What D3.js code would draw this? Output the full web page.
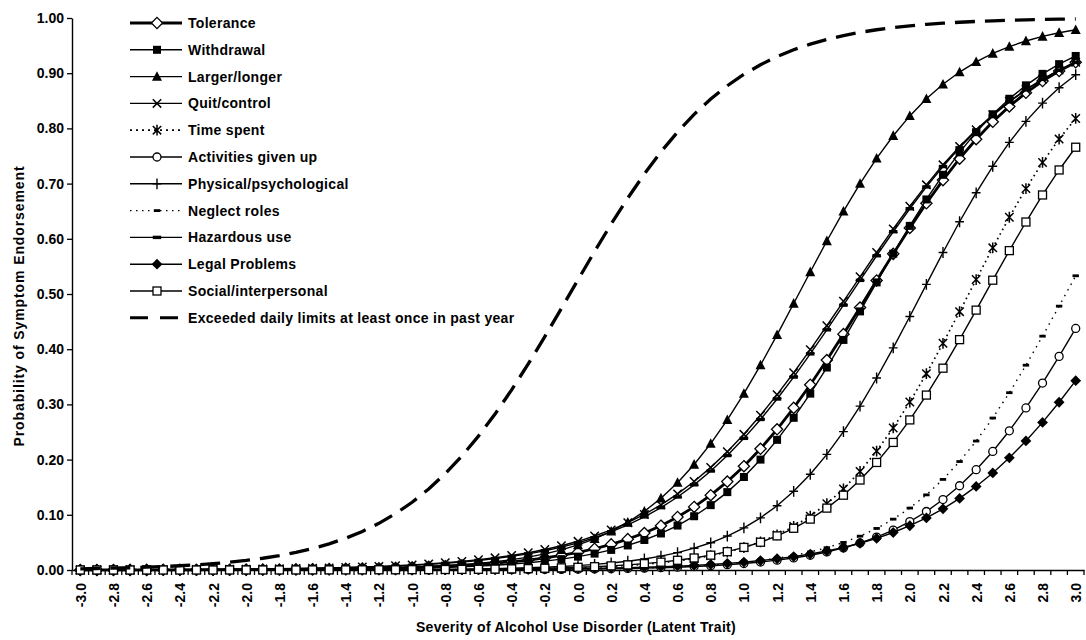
<!DOCTYPE html>
<html>
<head>
<meta charset="utf-8">
<script src="https://cdn.jsdelivr.net/npm/d3@7"></script>
<style>
  body { margin: 0; background: #fff; }
  svg text { font-family: "Liberation Sans", Arial, sans-serif; font-weight: bold; fill: #000; }
</style>
</head>
<body>
<svg id="chart" width="1086" height="640"></svg>
<script>
// Latent trait values (x categories)
const categories = [
  "-3.0","-2.9","-2.8","-2.7","-2.6","-2.5","-2.4","-2.3","-2.2","-2.1",
  "-2.0","-1.9","-1.8","-1.7","-1.6","-1.5","-1.4","-1.3","-1.2","-1.1",
  "-1.0","-0.9","-0.8","-0.7","-0.6","-0.5","-0.4","-0.3","-0.2","-0.1",
  "0.0","0.1","0.2","0.3","0.4","0.5","0.6","0.7","0.8","0.9",
  "1.0","1.1","1.2","1.3","1.4","1.5","1.6","1.7","1.8","1.9",
  "2.0","2.1","2.2","2.3","2.4","2.5","2.6","2.7","2.8","2.9",
  "3.0"
];

// Labelled categories on the x axis
const xTickLabels = ["-3.0","-2.8","-2.6","-2.4","-2.2","-2.0","-1.8","-1.6","-1.4","-1.2",
  "-1.0","-0.8","-0.6","-0.4","-0.2","0.0","0.2","0.4","0.6","0.8",
  "1.0","1.2","1.4","1.6","1.8","2.0","2.2","2.4","2.6","2.8","3.0"];

const yTicks = [0, 0.1, 0.2, 0.3, 0.4, 0.5, 0.6, 0.7, 0.8, 0.9, 1.0];

// Probability of endorsement for each criterion
const tolerance = [
  0.0001,0.0001,0.0001,0.0002,0.0002,0.0003,0.0003,0.0004,0.0005,0.0005,
  0.0007,0.0008,0.0010,0.0012,0.0015,0.0018,0.0021,0.0026,0.0032,0.0038,
  0.0047,0.0057,0.0069,0.0083,0.0101,0.0123,0.0149,0.0180,0.0218,0.0264,
  0.0319,0.0385,0.0464,0.0559,0.0670,0.0803,0.0960,0.1143,0.1355,0.1601,
  0.1881,0.2196,0.2549,0.2937,0.3356,0.3804,0.4273,0.4755,0.5245,0.5727,
  0.6196,0.6644,0.7063,0.7451,0.7804,0.8119,0.8399,0.8645,0.8857,0.9040,
  0.9197];
const withdrawal = [
  0.0000,0.0001,0.0001,0.0001,0.0001,0.0001,0.0002,0.0002,0.0002,0.0003,
  0.0004,0.0005,0.0006,0.0007,0.0009,0.0011,0.0013,0.0016,0.0020,0.0025,
  0.0030,0.0037,0.0046,0.0057,0.0070,0.0086,0.0106,0.0131,0.0161,0.0197,
  0.0242,0.0297,0.0364,0.0445,0.0544,0.0662,0.0805,0.0974,0.1175,0.1411,
  0.1685,0.2000,0.2358,0.2757,0.3195,0.3668,0.4168,0.4685,0.5210,0.5730,
  0.6234,0.6713,0.7159,0.7566,0.7932,0.8256,0.8537,0.8780,0.8988,0.9164,
  0.9312];
const largerLonger = [
  0.0000,0.0001,0.0001,0.0001,0.0001,0.0002,0.0002,0.0002,0.0003,0.0004,
  0.0005,0.0006,0.0008,0.0010,0.0012,0.0015,0.0019,0.0024,0.0030,0.0038,
  0.0048,0.0060,0.0076,0.0095,0.0119,0.0149,0.0187,0.0234,0.0292,0.0365,
  0.0454,0.0564,0.0699,0.0864,0.1062,0.1300,0.1582,0.1911,0.2290,0.2719,
  0.3195,0.3712,0.4261,0.4828,0.5399,0.5960,0.6498,0.6999,0.7457,0.7867,
  0.8226,0.8536,0.8799,0.9021,0.9206,0.9358,0.9482,0.9584,0.9666,0.9733,
  0.9786];
const quitControl = [
  0.0003,0.0003,0.0004,0.0005,0.0005,0.0006,0.0008,0.0009,0.0011,0.0013,
  0.0016,0.0019,0.0022,0.0027,0.0032,0.0038,0.0045,0.0054,0.0065,0.0077,
  0.0092,0.0110,0.0131,0.0156,0.0185,0.0221,0.0263,0.0312,0.0371,0.0440,
  0.0520,0.0616,0.0727,0.0857,0.1007,0.1180,0.1379,0.1604,0.1859,0.2143,
  0.2458,0.2803,0.3176,0.3573,0.3992,0.4425,0.4868,0.5312,0.5752,0.6180,
  0.6590,0.6978,0.7340,0.7673,0.7975,0.8248,0.8490,0.8705,0.8892,0.9056,
  0.9197];
const timeSpent = [
  0.0000,0.0000,0.0000,0.0000,0.0000,0.0000,0.0000,0.0000,0.0000,0.0000,
  0.0000,0.0000,0.0001,0.0001,0.0001,0.0001,0.0002,0.0002,0.0003,0.0003,
  0.0004,0.0005,0.0006,0.0008,0.0010,0.0013,0.0016,0.0021,0.0026,0.0033,
  0.0041,0.0052,0.0066,0.0083,0.0104,0.0131,0.0165,0.0207,0.0260,0.0326,
  0.0408,0.0510,0.0635,0.0789,0.0976,0.1200,0.1469,0.1786,0.2154,0.2573,
  0.3043,0.3557,0.4107,0.4680,0.5262,0.5837,0.6390,0.6909,0.7383,0.7807,
  0.8180];
const activitiesGivenUp = [
  0.0000,0.0000,0.0000,0.0000,0.0000,0.0000,0.0000,0.0000,0.0000,0.0000,
  0.0000,0.0000,0.0000,0.0000,0.0001,0.0001,0.0001,0.0001,0.0001,0.0001,
  0.0002,0.0002,0.0003,0.0003,0.0004,0.0005,0.0006,0.0008,0.0010,0.0012,
  0.0015,0.0018,0.0022,0.0028,0.0034,0.0042,0.0051,0.0063,0.0078,0.0096,
  0.0118,0.0145,0.0178,0.0218,0.0267,0.0327,0.0400,0.0489,0.0596,0.0724,
  0.0878,0.1060,0.1276,0.1526,0.1817,0.2148,0.2522,0.2936,0.3387,0.3870,
  0.4376];
const physicalPsych = [
  0.0000,0.0000,0.0000,0.0000,0.0000,0.0000,0.0000,0.0000,0.0000,0.0001,
  0.0001,0.0001,0.0001,0.0002,0.0002,0.0002,0.0003,0.0004,0.0005,0.0006,
  0.0008,0.0010,0.0012,0.0016,0.0020,0.0025,0.0032,0.0040,0.0050,0.0063,
  0.0080,0.0101,0.0127,0.0159,0.0200,0.0251,0.0315,0.0395,0.0493,0.0615,
  0.0764,0.0945,0.1164,0.1426,0.1735,0.2095,0.2507,0.2969,0.3478,0.4024,
  0.4593,0.5175,0.5752,0.6309,0.6833,0.7314,0.7747,0.8127,0.8457,0.8737,
  0.8973];
const neglectRoles = [
  0.0000,0.0000,0.0000,0.0000,0.0000,0.0000,0.0000,0.0000,0.0000,0.0000,
  0.0000,0.0000,0.0000,0.0000,0.0000,0.0001,0.0001,0.0001,0.0001,0.0001,
  0.0002,0.0002,0.0003,0.0003,0.0004,0.0005,0.0006,0.0008,0.0010,0.0012,
  0.0016,0.0019,0.0024,0.0030,0.0037,0.0047,0.0058,0.0072,0.0089,0.0111,
  0.0138,0.0172,0.0213,0.0264,0.0327,0.0404,0.0499,0.0613,0.0753,0.0921,
  0.1122,0.1361,0.1641,0.1965,0.2336,0.2753,0.3212,0.3710,0.4236,0.4780,
  0.5330];
const hazardousUse = [
  0.0002,0.0003,0.0003,0.0004,0.0005,0.0006,0.0007,0.0008,0.0010,0.0012,
  0.0014,0.0017,0.0020,0.0024,0.0029,0.0035,0.0042,0.0050,0.0059,0.0071,
  0.0085,0.0101,0.0121,0.0145,0.0173,0.0206,0.0246,0.0293,0.0349,0.0414,
  0.0492,0.0584,0.0691,0.0816,0.0962,0.1129,0.1323,0.1543,0.1793,0.2074,
  0.2385,0.2727,0.3098,0.3495,0.3915,0.4351,0.4798,0.5247,0.5693,0.6128,
  0.6545,0.6940,0.7309,0.7648,0.7956,0.8233,0.8480,0.8698,0.8888,0.9054,
  0.9197];
const legalProblems = [
  0.0000,0.0000,0.0000,0.0000,0.0000,0.0000,0.0000,0.0000,0.0000,0.0001,
  0.0001,0.0001,0.0001,0.0001,0.0001,0.0002,0.0002,0.0002,0.0003,0.0003,
  0.0004,0.0005,0.0006,0.0007,0.0008,0.0010,0.0012,0.0014,0.0017,0.0020,
  0.0024,0.0029,0.0035,0.0041,0.0050,0.0059,0.0071,0.0084,0.0101,0.0120,
  0.0143,0.0171,0.0204,0.0243,0.0289,0.0344,0.0408,0.0485,0.0574,0.0679,
  0.0802,0.0944,0.1109,0.1297,0.1514,0.1758,0.2033,0.2338,0.2674,0.3039,
  0.3430];
const socialInterpersonal = [
  0.0000,0.0000,0.0000,0.0000,0.0000,0.0000,0.0000,0.0000,0.0000,0.0001,
  0.0001,0.0001,0.0001,0.0001,0.0002,0.0002,0.0002,0.0003,0.0004,0.0004,
  0.0006,0.0007,0.0009,0.0011,0.0013,0.0016,0.0020,0.0025,0.0032,0.0039,
  0.0049,0.0060,0.0075,0.0092,0.0115,0.0142,0.0176,0.0218,0.0269,0.0332,
  0.0409,0.0503,0.0618,0.0756,0.0922,0.1121,0.1355,0.1630,0.1948,0.2311,
  0.2719,0.3169,0.3656,0.4173,0.4708,0.5250,0.5786,0.6304,0.6794,0.7247,
  0.7659];
const exceededLimits = [
  0.0022,0.0027,0.0034,0.0041,0.0051,0.0062,0.0077,0.0094,0.0115,0.0141,
  0.0173,0.0213,0.0260,0.0318,0.0388,0.0473,0.0576,0.0699,0.0846,0.1021,
  0.1227,0.1468,0.1746,0.2065,0.2425,0.2825,0.3263,0.3733,0.4229,0.4740,
  0.5258,0.5771,0.6267,0.6737,0.7175,0.7575,0.7934,0.8254,0.8532,0.8773,
  0.8979,0.9153,0.9301,0.9424,0.9527,0.9612,0.9682,0.9740,0.9787,0.9826,
  0.9859,0.9885,0.9906,0.9923,0.9938,0.9949,0.9959,0.9966,0.9973,0.9978,
  0.9982];

const seriesNames = [
  "Tolerance", "Withdrawal", "Larger/longer", "Quit/control", "Time spent",
  "Activities given up", "Physical/psychological", "Neglect roles", "Hazardous use",
  "Legal Problems", "Social/interpersonal", "Exceeded daily limits at least once in past year"
];
const seriesValues = [
  tolerance, withdrawal, largerLonger, quitControl, timeSpent,
  activitiesGivenUp, physicalPsych, neglectRoles, hazardousUse,
  legalProblems, socialInterpersonal, exceededLimits
];

// Line and marker styling per series
const styles = [
  { width: 2.8, dash: null,      marker: "diamondOpen" },
  { width: 1.4, dash: null,      marker: "squareFilled" },
  { width: 1.4, dash: null,      marker: "triangle" },
  { width: 1.4, dash: null,      marker: "cross" },
  { width: 1.7, dash: "1.6,3.6", marker: "asterisk" },
  { width: 1.4, dash: null,      marker: "circleOpen" },
  { width: 1.4, dash: null,      marker: "plus" },
  { width: 1.4, dash: "1.5,5",   marker: "dashSmall" },
  { width: 1.4, dash: null,      marker: "dash" },
  { width: 1.4, dash: null,      marker: "diamondFilled" },
  { width: 1.4, dash: null,      marker: "squareOpen" },
  { width: 3.3, dash: "20,10",   marker: null }
];

const svg = d3.select("#chart");
const plot = { left: 72, right: 1084, top: 18, bottom: 570 };

const x = d3.scalePoint().domain(categories).range([plot.left, plot.right]).padding(0.5);
const xBand = d3.scaleBand().domain(categories).range([plot.left, plot.right]);
const y = d3.scaleLinear().domain([0, 1]).range([plot.bottom, plot.top]);

function drawMarker(g, type, cx, cy) {
  const s = g.append("g").attr("transform", `translate(${cx},${cy})`);
  switch (type) {
    case "diamondOpen":
      s.append("path").attr("d", "M0,-5.6L5.6,0L0,5.6L-5.6,0Z")
        .attr("fill", "#fff").attr("stroke", "#000").attr("stroke-width", 1.3);
      break;
    case "diamondFilled":
      s.append("path").attr("d", "M0,-5.4L5.4,0L0,5.4L-5.4,0Z").attr("fill", "#000");
      break;
    case "squareFilled":
      s.append("rect").attr("x", -4).attr("y", -4).attr("width", 8).attr("height", 8).attr("fill", "#000");
      break;
    case "squareOpen":
      s.append("rect").attr("x", -4).attr("y", -4).attr("width", 8).attr("height", 8)
        .attr("fill", "#fff").attr("stroke", "#000").attr("stroke-width", 1.3);
      break;
    case "triangle":
      s.append("path").attr("d", "M0,-5.4L5,4.2L-5,4.2Z").attr("fill", "#000");
      break;
    case "cross":
      s.append("path").attr("d", "M-4.2,-4.2L4.2,4.2M-4.2,4.2L4.2,-4.2").attr("stroke", "#000").attr("stroke-width", 1.5);
      break;
    case "asterisk":
      s.append("path").attr("d", "M-4.2,-4.2L4.2,4.2M-4.2,4.2L4.2,-4.2M0,-5.4L0,5.4").attr("stroke", "#000").attr("stroke-width", 1.5);
      break;
    case "circleOpen":
      s.append("circle").attr("r", 4).attr("fill", "#fff").attr("stroke", "#000").attr("stroke-width", 1.3);
      break;
    case "plus":
      s.append("path").attr("d", "M0,-5.4L0,5.4M-4.4,0L4.4,0").attr("stroke", "#000").attr("stroke-width", 1.4);
      break;
    case "dash":
      s.append("rect").attr("x", -4.2).attr("y", -1.7).attr("width", 8.4).attr("height", 3.4).attr("fill", "#000");
      break;
    case "dashSmall":
      s.append("rect").attr("x", -3.2).attr("y", -1.4).attr("width", 6.4).attr("height", 2.8).attr("fill", "#000");
      break;
  }
}

// Y axis
const yAxis = d3.axisLeft(y).tickValues(yTicks).tickFormat(d3.format(".2f")).tickSize(5).tickSizeOuter(0);
const gy = svg.append("g").attr("transform", `translate(${plot.left},0)`).call(yAxis);
gy.select(".domain").attr("stroke", "#000").attr("stroke-width", 1.4);
gy.selectAll(".tick line").attr("stroke", "#000").attr("stroke-width", 1.3);
gy.selectAll(".tick text").attr("x", -8).style("font-size", "14px")
  .style("font-family", "'Liberation Sans', Arial, sans-serif").style("font-weight", "bold");

// X axis: labels at every other category, tick marks at category boundaries
const xAxis = d3.axisBottom(x).tickValues(xTickLabels).tickSize(0).tickSizeOuter(0);
const gx = svg.append("g").attr("transform", `translate(0,${plot.bottom})`).call(xAxis);
gx.select(".domain").attr("stroke", "#000").attr("stroke-width", 1.4);
gx.selectAll(".tick text")
  .attr("transform", "rotate(-90)")
  .attr("x", -13).attr("y", 0).attr("dy", "0.36em")
  .style("text-anchor", "end")
  .style("font-size", "14px")
  .style("font-family", "'Liberation Sans', Arial, sans-serif").style("font-weight", "bold");
const boundaries = categories.map(c => xBand(c)).concat([xBand.range()[1]]);
gx.selectAll(".bound").data(boundaries).enter().append("line")
  .attr("class", "bound")
  .attr("x1", d => d).attr("x2", d => d).attr("y1", 0).attr("y2", 5)
  .attr("stroke", "#000").attr("stroke-width", 1.3);

// Axis titles
svg.append("text")
  .attr("x", 576).attr("y", 632)
  .attr("text-anchor", "middle")
  .style("font-size", "14px").style("letter-spacing", "0.3px")
  .text("Severity of Alcohol Use Disorder (Latent Trait)");
svg.append("text")
  .attr("transform", "translate(24,306) rotate(-90)")
  .attr("text-anchor", "middle")
  .style("font-size", "14px").style("letter-spacing", "0.9px")
  .text("Probability of Symptom Endorsement");

// Series lines and markers
const line = d3.line().x((d, i) => x(categories[i])).y(d => y(d));
const plotG = svg.append("g");
seriesValues.forEach((vals, k) => {
  const st = styles[k];
  const g = plotG.append("g");
  g.append("path").datum(vals)
    .attr("d", line)
    .attr("fill", "none")
    .attr("stroke", "#000")
    .attr("stroke-width", st.width)
    .attr("stroke-dasharray", st.dash);
  if (st.marker) {
    vals.forEach((v, i) => drawMarker(g, st.marker, x(categories[i]), y(v)));
  }
});

// Legend
const legend = svg.append("g");
const legendTop = 23, legendStep = 26.8;
seriesNames.forEach((name, k) => {
  const st = styles[k];
  const ly = legendTop + k * legendStep;
  legend.append("line")
    .attr("x1", 130).attr("x2", 182).attr("y1", ly).attr("y2", ly)
    .attr("stroke", "#000")
    .attr("stroke-width", k === 11 ? 3 : st.width)
    .attr("stroke-dasharray", k === 11 ? "18,12" : (st.dash ? (k === 4 ? "2,4" : "1.5,4.5") : null));
  if (st.marker) drawMarker(legend, st.marker, 157, ly);
  legend.append("text")
    .attr("x", 188).attr("y", ly).attr("dy", "0.36em")
    .style("font-size", "14px").style("letter-spacing", "0.3px")
    .text(name);
});
</script>
</body>
</html>
